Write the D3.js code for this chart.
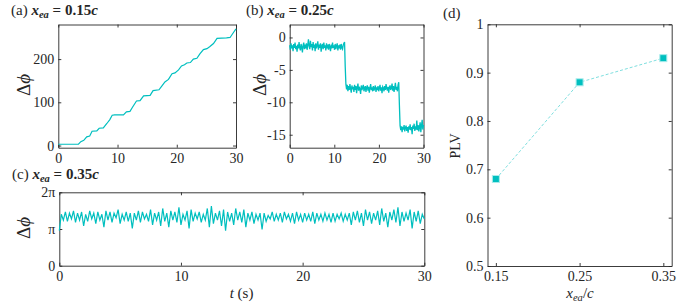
<!DOCTYPE html>
<html>
<head>
<meta charset="utf-8">
<script src="https://cdn.jsdelivr.net/npm/d3@7"></script>
<style>
  html, body { margin: 0; padding: 0; background: #fff; }
  svg { display: block; }
  text { font-family: "Liberation Serif", "Times New Roman", "DejaVu Serif", serif; fill: #262626; }
</style>
</head>
<body>
<svg id="chart" width="692" height="305"></svg>
<script>
// ---- data ----
// (a) x_ea = 0.15c : staircase phase difference, [t (s), delta phi]
const phiA_t = [0, 3.4, 3.8, 4.3, 4.8, 5.3, 5.7, 6.5, 6.9, 7.6, 8.2, 8.7, 9.1, 9.5, 11.0, 11.5, 12.1, 12.5,
  13.2, 13.8, 14.4, 15.5, 16.0, 17.0, 17.5, 18.0, 18.6, 19.2, 19.7, 20.3, 20.8, 21.3, 21.7, 22.3,
  22.8, 23.4, 23.9, 24.5, 25.1, 25.6, 26.2, 26.8, 28.4, 29.0, 29.6, 30.0];
const phiA = [3, 3, 9, 12, 20, 22, 33, 34, 40, 41, 51, 60, 70, 71, 71, 78, 79, 88,
  103, 104, 115, 116, 127, 129, 138, 147, 153, 166, 168, 175, 184, 187, 191, 192,
  200, 202, 212, 222, 224, 229, 236, 248, 249, 250, 262, 270];

// (b) x_ea = 0.25c : noisy steps, sampled every 0.15 s
const dtB = 0.15;
const phiB = [
  -1.2,-1.9,-0.9,-1.7,-1.2,-2.1,-1.0,-1.6,-0.8,-1.8,
  -1.3,-2.2,-1.1,-1.7,-0.7,-1.6,-2.0,-1.0,-1.5,-2.3,
  -1.2,-0.8,-1.8,-1.1,-1.7,-0.9,-1.9,-1.2,-0.3,-1.3,
  -1.8,-0.5,-1.5,-1.0,-2.0,-0.7,-1.6,-1.1,-2.1,-0.9,
  -1.7,-1.2,-0.6,-1.9,-1.1,-1.6,-0.9,-2.2,-1.3,-1.0,
  -1.8,-0.8,-1.6,-1.2,-2.0,-0.9,-1.7,-1.1,-1.9,-1.0,
  -1.5,-2.1,-1.1,-1.7,-0.8,-1.6,-1.2,-1.9,-1.0,-1.8,
  -1.3,-0.9,-2.0,-1.2,-1.7,-1.1,-1.9,-1.0,-1.6,-1.8,
  -1.2,-0.9,-0.7,
  -4.5,-7.2,
  -8.0,-7.3,-8.3,-7.5,-8.1,-7.2,-7.9,-8.5,-7.4,-8.0,
  -7.6,-8.4,-7.3,-8.1,-7.5,-8.6,-7.7,-7.1,-8.2,-7.6,
  -8.0,-8.7,-7.4,-8.1,-7.7,-7.3,-8.3,-7.8,-7.5,-8.4,
  -7.7,-7.4,-8.2,-7.6,-8.5,-7.8,-7.2,-8.1,-7.7,-8.3,
  -7.5,-8.2,-7.8,-7.4,-8.4,-7.7,-8.1,-7.5,-8.3,-7.8,
  -7.3,-8.2,-7.7,-8.6,-7.6,-7.8,-8.3,-7.5,-8.1,-7.2,
  -7.8,-8.2,-7.6,-8.5,-7.7,-7.4,-8.1,-7.8,-7.1,-8.2,
  -7.5,-8.4,-7.7,-7.0,-8.1,-7.6,-8.3,-7.3,-6.9,
  -10.5,-13.6,
  -14.3,-13.7,-14.6,-13.8,-14.2,-13.5,-14.5,-13.9,-13.6,-14.4,
  -13.8,-14.7,-13.7,-14.2,-13.4,-14.3,-13.8,-14.9,-13.6,-14.1,
  -13.3,-14.4,-13.7,-14.2,-12.8,-14.3,-13.5,-14.5,-13.8,-13.1,
  -14.6,-13.6,-12.7,-14.2,-13.5
];

// (c) x_ea = 0.35c : oscillation around ~1.3 pi, sampled every 1/6 s
const dtC = 1 / 6;
const phiC = [
  3.0,4.4,3.9,4.6,3.8,4.5,4.0,4.7,3.7,4.5,3.9,4.6,
  3.4,4.4,3.8,4.7,4.0,4.5,3.6,4.6,3.9,4.4,3.3,4.7,
  3.9,4.6,3.7,4.5,4.1,4.8,3.6,4.4,3.9,4.6,3.8,4.5,
  3.2,4.5,3.9,4.7,3.7,4.6,4.0,4.4,3.8,4.8,3.5,4.5,
  3.9,4.6,3.4,4.9,3.8,4.5,3.3,4.7,3.9,4.6,3.7,5.0,
  3.5,4.4,3.9,4.7,3.2,4.8,3.8,4.5,4.0,4.6,3.7,4.4,
  3.9,4.9,3.3,5.1,3.6,4.5,3.9,4.7,3.4,4.8,3.0,4.6,
  3.8,4.5,3.5,4.9,3.9,4.6,3.7,4.8,3.3,4.5,3.9,4.6,
  3.6,4.4,3.9,4.5,3.1,4.5,3.8,4.3,4.0,4.6,3.8,4.4,
  3.9,4.5,3.7,4.6,4.0,4.4,3.8,4.5,3.6,4.6,3.9,4.4,
  3.7,4.5,3.9,4.4,3.8,4.6,3.6,4.5,3.9,4.4,3.8,4.5,
  3.9,4.4,3.7,4.5,3.8,4.4,4.0,4.5,3.8,4.4,3.9,4.5,
  3.5,4.6,3.9,4.7,3.7,4.5,3.4,4.8,3.9,4.6,3.6,4.5,
  3.9,4.7,3.5,4.9,3.8,4.5,3.3,4.6,3.9,4.8,3.7,5.0,
  3.4,4.6,3.8,4.5,3.9,4.8,3.2,4.6,3.8,4.7,3.6,4.4,
  4.0
];

// (d) phase locking value vs probe position
const xea = [0.15, 0.25, 0.35];
const plv = [0.68, 0.88, 0.93];

// tick values
const ticksTime = [0, 10, 20, 30];
const ticksA = [0, 100, 200];
const ticksB = [-15, -10, -5, 0];
const ticksC = [0, Math.PI, 2 * Math.PI];
const ticksCLabels = ["0", "\u03c0", "2\u03c0"];
const ticksDx = [0.15, 0.25, 0.35];
const ticksDy = [0.5, 0.6, 0.7, 0.8, 0.9, 1];

// ---- drawing ----
const CYAN = "#00bfbf";
const AXIS = "#262626";
const FONT = '"Liberation Serif", "Times New Roman", "DejaVu Serif", serif';
const svg = d3.select("#chart");

function makePanel(box, xDomain, yDomain, xTicks, yTicks, xFmt, yFmt) {
  const x = d3.scaleLinear().domain(xDomain).range([box.left, box.right]);
  const y = d3.scaleLinear().domain(yDomain).range([box.bottom, box.top]);
  const g = svg.append("g");

  const styleAxis = sel => {
    sel.attr("font-family", FONT).attr("font-size", 14);
    sel.selectAll("path").attr("stroke", AXIS).attr("stroke-width", 0.9);
    sel.selectAll("line").attr("stroke", AXIS).attr("stroke-width", 0.9);
    sel.selectAll("text").attr("fill", AXIS)
      .style("font-family", FONT).style("font-size", "14px");
  };

  g.append("g").attr("transform", "translate(0," + box.bottom + ")")
    .call(d3.axisBottom(x).tickValues(xTicks).tickSizeInner(-3).tickSizeOuter(0).tickPadding(5).tickFormat(xFmt))
    .call(styleAxis);
  g.append("g").attr("transform", "translate(0," + box.top + ")")
    .call(d3.axisTop(x).tickValues(xTicks).tickSizeInner(-3).tickSizeOuter(0).tickFormat(""))
    .call(styleAxis);
  g.append("g").attr("transform", "translate(" + box.left + ",0)")
    .call(d3.axisLeft(y).tickValues(yTicks).tickSizeInner(-3).tickSizeOuter(0).tickPadding(4).tickFormat(yFmt))
    .call(styleAxis);
  g.append("g").attr("transform", "translate(" + box.right + ",0)")
    .call(d3.axisRight(y).tickValues(yTicks).tickSizeInner(-3).tickSizeOuter(0).tickFormat(""))
    .call(styleAxis);

  const plot = svg.append("g");
  return { x, y, plot };
}

function title(xPos, yPos, label, value) {
  const t = svg.append("text").attr("x", xPos).attr("y", yPos).style("font-size", "15px");
  t.append("tspan").text("(" + label + ") ");
  if (value === undefined) return;
  t.append("tspan").style("font-style", "italic").style("font-weight", "bold").text("x");
  t.append("tspan").attr("dy", 3).style("font-style", "italic").style("font-weight", "bold")
    .style("font-size", "10.5px").text("ea");
  t.append("tspan").attr("dy", -3).style("font-weight", "bold").text(" = " + value);
  t.append("tspan").style("font-style", "italic").style("font-weight", "bold").text("c");
}

function ylabelDelta(xPos, yPos) {
  const t = svg.append("text")
    .attr("transform", "translate(" + xPos + "," + yPos + ")rotate(-90)")
    .attr("text-anchor", "middle")
    .style("font-size", "19px");
  t.append("tspan").text("\u0394");
  t.append("tspan").style("font-style", "italic").text("\u03d5");
}

const line = (sx, sy) => d3.line().x(d => sx(d[0])).y(d => sy(d[1]));
const numFmt = d => String(d);

// (a)
const pa = makePanel({ left: 58.3, right: 236, top: 24.5, bottom: 147.7 },
  [0, 30], [-5, 280], ticksTime, ticksA, numFmt, numFmt);
pa.plot.append("path")
  .datum(phiA_t.map((t, i) => [t, phiA[i]]))
  .attr("d", line(pa.x, pa.y))
  .attr("fill", "none").attr("stroke", CYAN).attr("stroke-width", 1.2);
title(11, 15, "a", "0.15");
ylabelDelta(30, 85);

// (b)
const pb = makePanel({ left: 289.7, right: 423.5, top: 24.5, bottom: 147.7 },
  [0, 30], [-17, 2], ticksTime, ticksB, numFmt, numFmt);
pb.plot.append("path")
  .datum(phiB.map((v, i) => [i * dtB, v]))
  .attr("d", line(pb.x, pb.y))
  .attr("fill", "none").attr("stroke", CYAN).attr("stroke-width", 1.3);
title(246, 15, "b", "0.25");
ylabelDelta(266, 85);

// (c)
const pc = makePanel({ left: 59.3, right: 424.3, top: 192.3, bottom: 265.7 },
  [0, 30], [0, 2 * Math.PI], ticksTime, ticksC, numFmt, (d, i) => ticksCLabels[i]);
pc.plot.append("path")
  .datum(phiC.map((v, i) => [i * dtC, v]))
  .attr("d", line(pc.x, pc.y))
  .attr("fill", "none").attr("stroke", CYAN).attr("stroke-width", 1.2);
title(12, 179, "c", "0.35");
ylabelDelta(30, 228);

const tl = svg.append("text").attr("x", 241.5).attr("y", 298)
  .attr("text-anchor", "middle").style("font-size", "15px");
tl.append("tspan").style("font-style", "italic").text("t");
tl.append("tspan").text(" (s)");

// (d)
const pd = makePanel({ left: 487.5, right: 671.7, top: 24.3, bottom: 266 },
  [0.14, 0.36], [0.5, 1], ticksDx, ticksDy, d3.format(".2f"), d => String(+d.toFixed(1)));
pd.plot.append("path")
  .datum(xea.map((v, i) => [v, plv[i]]))
  .attr("d", line(pd.x, pd.y))
  .attr("fill", "none").attr("stroke", "#6fdada").attr("stroke-width", 0.9)
  .attr("stroke-dasharray", "3,2");
pd.plot.selectAll("rect.mk")
  .data(xea.map((v, i) => [v, plv[i]]))
  .enter()
  .append("rect")
  .attr("class", "mk")
  .attr("x", d => pd.x(d[0]) - 3.5)
  .attr("y", d => pd.y(d[1]) - 3.5)
  .attr("width", 7).attr("height", 7)
  .attr("fill", CYAN).attr("stroke", "#a8ecec").attr("stroke-width", 1);
title(443, 18, "d");

svg.append("text")
  .attr("transform", "translate(460,146)rotate(-90)")
  .attr("text-anchor", "middle")
  .style("font-size", "14px")
  .text("PLV");

const xl = svg.append("text").attr("x", 580).attr("y", 298)
  .attr("text-anchor", "middle").style("font-size", "15px");
xl.append("tspan").style("font-style", "italic").text("x");
xl.append("tspan").attr("dy", 3).style("font-style", "italic").style("font-size", "10.5px").text("ea");
xl.append("tspan").attr("dy", -3).text("/");
xl.append("tspan").style("font-style", "italic").text("c");
</script>
</body>
</html>
